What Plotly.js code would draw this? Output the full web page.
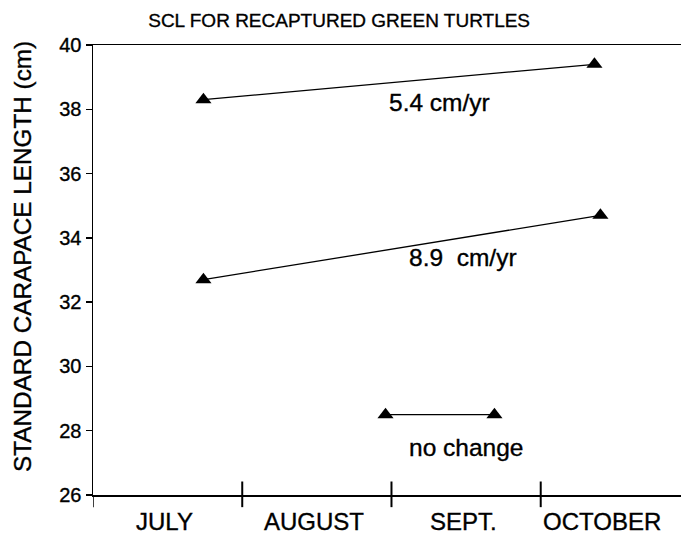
<!DOCTYPE html>
<html>
<head>
<meta charset="utf-8">
<script src="https://cdn.plot.ly/plotly-3.0.1.min.js"></script>
<style>
html,body{margin:0;padding:0;background:#fff;}
#chart{width:681px;height:534px;}
#chart text{stroke:#000;stroke-width:0.35px;}
</style>
</head>
<body>
<div id="chart"></div>
<script>
// Month index: 0 = start of July, 1 = start of August, ...
var months = ["JULY", "AUGUST", "SEPT.", "OCTOBER"];
var monthBoundaries = [1, 2, 3];
var yTicks = [26, 28, 30, 32, 34, 36, 38, 40];

// Turtle A (5.4 cm/yr)
var turtleA_x = [0.74, 3.36];
var turtleA_y = [38.3, 39.4];
// Turtle B (8.9 cm/yr)
var turtleB_x = [0.74, 3.40];
var turtleB_y = [32.7, 34.7];
// Turtle C (no change)
var turtleC_x = [1.96, 2.69];
var turtleC_y = [28.5, 28.5];

var rateLabels = ["5.4 cm/yr", "8.9  cm/yr", "no change"];

var FONT = "Liberation Sans, Arial, Helvetica, sans-serif";

function turtleTrace(x, y) {
  return {
    x: x, y: y, type: "scatter", mode: "lines+markers",
    line: {color: "#000", width: 1.3},
    marker: {symbol: "triangle-up", size: 14, color: "#000"},
    showlegend: false, hoverinfo: "skip", cliponaxis: false
  };
}

var data = [
  turtleTrace(turtleA_x, turtleA_y),
  turtleTrace(turtleB_x, turtleB_y),
  turtleTrace(turtleC_x, turtleC_y)
];

var shapes = monthBoundaries.map(function (b) {
  return {type: "line", xref: "x", yref: "paper", x0: b, x1: b, y0: -0.027, y1: 0.03,
          line: {color: "#000", width: 2}};
});
shapes.push({type: "line", xref: "x", yref: "paper", x0: 0, x1: 0, y0: -0.027, y1: 0,
             line: {color: "#000", width: 1.5}});

var monthPos = [0.48, 1.48, 2.48, 3.41];
var annotations = months.map(function (m, i) {
  return {text: m, xref: "x", yref: "paper", x: monthPos[i], y: -0.058,
          xanchor: "center", yanchor: "middle", showarrow: false,
          font: {family: FONT, size: 24, color: "#000"}};
});
var rateFont = {family: FONT, size: 24.5, color: "#000"};
annotations.push({text: rateLabels[0], xref: "x", yref: "y", x: 2.32, y: 38.2,
  xanchor: "center", yanchor: "middle", showarrow: false, font: rateFont});
annotations.push({text: rateLabels[1], xref: "x", yref: "y", x: 2.48, y: 33.4,
  xanchor: "center", yanchor: "middle", showarrow: false, font: rateFont});
annotations.push({text: rateLabels[2], xref: "x", yref: "y", x: 2.50, y: 27.49,
  xanchor: "center", yanchor: "middle", showarrow: false, font: rateFont});
annotations.push({text: "STANDARD CARAPACE LENGTH (cm)", xref: "paper", yref: "paper",
  x: -0.121, y: 0.531, xanchor: "center", yanchor: "middle", textangle: -90, showarrow: false,
  font: {family: FONT, size: 24.3, color: "#000"}});

var layout = {
  width: 681, height: 534,
  margin: {l: 93, r: 0, t: 45, b: 39},
  paper_bgcolor: "#fff", plot_bgcolor: "#fff",
  title: {text: "SCL FOR RECAPTURED GREEN TURTLES", x: 0.498, xanchor: "center",
          y: 0.961, yanchor: "middle", font: {family: FONT, size: 19, color: "#000"}},
  xaxis: {range: [0, 3.94], showgrid: false, zeroline: false, showline: true, mirror: true,
          linecolor: "#000", linewidth: 1.5, ticks: "", showticklabels: false, fixedrange: true},
  yaxis: {range: [26, 40], tickvals: yTicks, showgrid: false, zeroline: false, showline: true,
          linecolor: "#000", linewidth: 1.5, ticks: "outside", ticklen: 6, tickwidth: 1.5,
          tickcolor: "#000", tickfont: {family: FONT, size: 20, color: "#000"}, fixedrange: true},
  shapes: shapes,
  annotations: annotations
};

Plotly.newPlot("chart", data, layout, {displayModeBar: false, staticPlot: true});
</script>
</body>
</html>
